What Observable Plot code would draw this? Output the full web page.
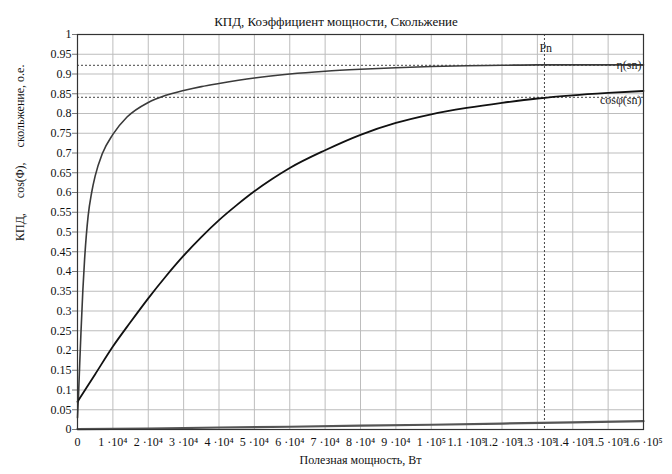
<!DOCTYPE html>
<html>
<head>
<meta charset="utf-8">
<script src="https://cdn.jsdelivr.net/npm/d3@7"></script>
<script src="https://cdn.jsdelivr.net/npm/@observablehq/plot@0.6"></script>
<style>
  body { margin: 0; background: #fff; }
  #wrap { width: 672px; height: 474px; position: relative; font-family: "Liberation Serif", "Times New Roman", Times, "DejaVu Serif", serif; }
  #title { position: absolute; top: 15px; left: 0; width: 672px; text-align: center; font-size: 13px; line-height: 13px; color: #111; }
  #chart { position: absolute; top: 20px; left: 0; }
  #chart svg text { font-family: "Liberation Serif", "Times New Roman", Times, "DejaVu Serif", serif; }
</style>
</head>
<body>
<div id="wrap">
  <div id="title">КПД, Коэффициент мощности, Скольжение</div>
  <div id="chart"></div>
</div>
<script>
// Useful power, W
const etaP   = [0, 300, 600, 1000, 1500, 2000, 3000, 4000, 5000, 7000, 10000, 14000, 20000, 25000, 30000, 35000, 40000, 50000, 60000, 70000, 80000, 90000, 100000, 110000, 120000, 130000, 140000, 150000, 160000];
const etaV   = [0.03, 0.09, 0.16, 0.25, 0.35, 0.43, 0.54, 0.6, 0.642, 0.698, 0.747, 0.791, 0.828, 0.846, 0.858, 0.868, 0.876, 0.89, 0.9, 0.907, 0.912, 0.916, 0.919, 0.921, 0.922, 0.923, 0.923, 0.923, 0.923];

const cosP   = [0, 5000, 10000, 15000, 20000, 25000, 30000, 35000, 40000, 45000, 50000, 55000, 60000, 70000, 80000, 90000, 100000, 110000, 120000, 130000, 140000, 150000, 160000];
const cosV   = [0.07, 0.14, 0.21, 0.272, 0.332, 0.388, 0.44, 0.487, 0.53, 0.568, 0.603, 0.634, 0.662, 0.707, 0.746, 0.776, 0.798, 0.814, 0.827, 0.838, 0.846, 0.852, 0.857];

const slipP  = [0, 20000, 40000, 60000, 80000, 100000, 120000, 140000, 160000];
const slipV  = [0.001, 0.002, 0.005, 0.007, 0.010, 0.012, 0.015, 0.018, 0.021];

const Pn = 132000;
const etaSn = 0.922;
const cosSn = 0.841;

const xTicks = [0, 10000, 20000, 30000, 40000, 50000, 60000, 70000, 80000, 90000, 100000, 110000, 120000, 130000, 140000, 150000, 160000];
const xTickLabels = ["0", "1 ·10⁴", "2 ·10⁴", "3 ·10⁴", "4 ·10⁴", "5 ·10⁴", "6 ·10⁴", "7 ·10⁴", "8 ·10⁴", "9 ·10⁴", "1 ·10⁵", "1.1 ·10⁵", "1.2 ·10⁵", "1.3 ·10⁵", "1.4 ·10⁵", "1.5 ·10⁵", "1.6 ·10⁵"];
const yTicks = [0, 0.05, 0.1, 0.15, 0.2, 0.25, 0.3, 0.35, 0.4, 0.45, 0.5, 0.55, 0.6, 0.65, 0.7, 0.75, 0.8, 0.85, 0.9, 0.95, 1];
const yTickLabels = ["0", "0.05", "0.1", "0.15", "0.2", "0.25", "0.3", "0.35", "0.4", "0.45", "0.5", "0.55", "0.6", "0.65", "0.7", "0.75", "0.8", "0.85", "0.9", "0.95", "1"];

const yLabel = "КПД,\u00a0\u00a0\u00a0\u00a0\u00a0cos(Φ),\u00a0\u00a0\u00a0\u00a0\u00a0скольжение, о.е.";
const xLabel = "Полезная мощность, Вт";

const eta = etaP.map((p, i) => ({p, v: etaV[i]}));
const cos = cosP.map((p, i) => ({p, v: cosV[i]}));
const slip = slipP.map((p, i) => ({p, v: slipV[i]}));

const serif = "'Liberation Serif', 'Times New Roman', Times, 'DejaVu Serif', serif";

const chart = Plot.plot({
  width: 672,
  height: 454,
  marginTop: 14,
  marginBottom: 45,
  marginLeft: 77,
  marginRight: 29,
  style: {fontFamily: serif, fontSize: "12px", color: "#111", background: "transparent"},
  x: {domain: [0, 160000]},
  y: {domain: [0, 1]},
  marks: [
    Plot.gridX(xTicks, {stroke: "#bdbdbd", strokeOpacity: 1}),
    Plot.gridY(yTicks, {stroke: "#bdbdbd", strokeOpacity: 1}),
    Plot.axisY({ticks: yTicks, tickSize: 5, tickPadding: 1, stroke: "#777",
      tickFormat: d => yTickLabels[yTicks.indexOf(d)], label: null, fontSize: 12}),
    Plot.axisX({ticks: xTicks, tickSize: 0, tickPadding: 8,
      tickFormat: d => xTickLabels[xTicks.indexOf(d)], label: null, fontSize: 12}),
    Plot.ruleY([etaSn], {stroke: "#444", strokeDasharray: "2,2", strokeWidth: 1}),
    Plot.ruleY([cosSn], {stroke: "#444", strokeDasharray: "2,2", strokeWidth: 1}),
    Plot.ruleX([Pn], {stroke: "#444", strokeDasharray: "2,2", strokeWidth: 1}),
    Plot.line(slip, {x: "p", y: "v", stroke: "#555", strokeWidth: 2.2}),
    Plot.line(eta, {x: "p", y: "v", stroke: "#3a3a3a", strokeWidth: 1.6, curve: "monotone-x"}),
    Plot.line(cos, {x: "p", y: "v", stroke: "#111", strokeWidth: 1.8, curve: "monotone-x"}),
    Plot.frame({stroke: "#333", strokeWidth: 1.2}),
    Plot.text([etaSn], {x: () => 160000, y: d => d, text: () => "η(sn)", textAnchor: "end", dx: -2, dy: 0, fontSize: 12, fill: "#222"}),
    Plot.text([cosSn], {x: () => 160000, y: d => d, text: () => "cosφ(sn)", textAnchor: "end", dx: -2, dy: 3, fontSize: 12, fill: "#222"}),
    Plot.text([Pn], {x: d => d, frameAnchor: "top", dy: 9, dx: -5, text: () => "Pn", textAnchor: "start", fontSize: 12, fill: "#222"}),
    Plot.text([xLabel], {frameAnchor: "bottom", dy: 34, text: d => d, fontSize: 12, fill: "#111"}),
    Plot.text([yLabel], {frameAnchor: "left", dx: -57, dy: 9, rotate: -90, text: d => d, fontSize: 12, fill: "#111"})
  ]
});
document.getElementById("chart").appendChild(chart);
</script>
</body>
</html>
